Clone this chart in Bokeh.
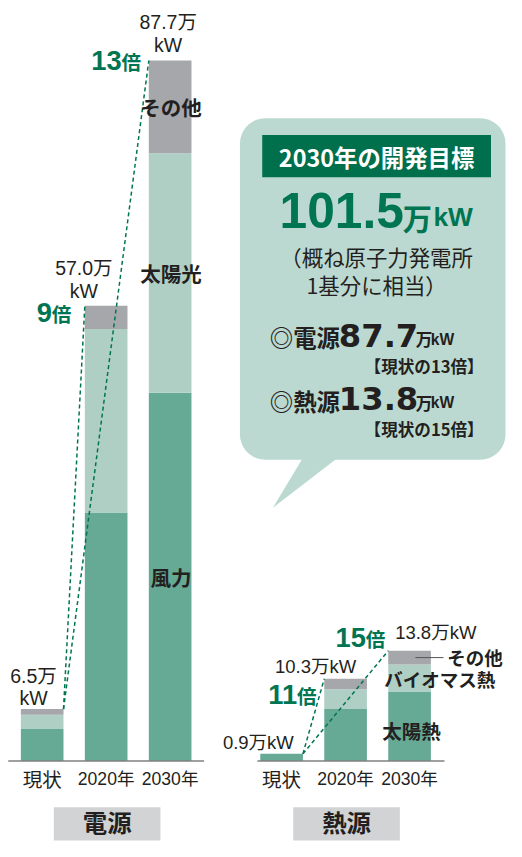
import numpy as np
from bokeh.plotting import figure
from bokeh.models import Range1d, ColumnDataSource
from bokeh.core.properties import value
from bokeh.embed import file_html
from bokeh.resources import INLINE

# ---------------- data ----------------
categories = ["現状", "2020年", "2030年"]

elec_series = ["風力", "太陽光", "その他"]
elec_wind = [4.0, 31.1, 46.1]
elec_solar = [1.8, 23.0, 30.0]
elec_other = [0.7, 2.9, 11.6]
elec_total = [6.5, 57.0, 87.7]
elec_total_text = ["6.5万", "57.0万", "87.7万"]
elec_ratio = ["", "9", "13"]

heat_series = ["太陽熱", "バイオマス熱", "その他"]
heat_solar = [0.9, 6.5, 8.7]
heat_bio = [0.0, 2.5, 3.4]
heat_other = [0.0, 1.3, 1.7]
heat_total = [0.9, 10.3, 13.8]
heat_total_text = ["0.9万kW", "10.3万kW", "13.8万kW"]
heat_ratio = ["", "11", "15"]

group_titles = ["電源", "熱源"]
goal_title = "2030年の開発目標"
goal_total = "101.5"
goal_note = ["（概ね原子力発電所", "1基分に相当）"]
goal_lines = [("◎電源", "87.7", "【現状の13倍】"), ("◎熱源", "13.8", "【現状の15倍】")]

# ---------------- style / layout ----------------
C_DARK = "#66a995"
C_LIGHT = "#afcfc5"
C_GREY = "#a6a7ab"
C_CALLOUT = "#bcd9d1"
C_HEAD = "#006f4c"
C_GREEN = "#007551"
C_TEXT = "#231f20"
C_BOX = "#d1d3d4"
C_AXIS = "#808080"

F_CJK = "'Noto Sans CJK JP'"
F_SANS = "'Liberation Sans', 'Noto Sans CJK JP'"
F_DV = "'DejaVu Sans', 'Noto Sans CJK JP'"

REF_W, REF_H = 522, 857          # coordinate frame of the artwork
W, H = 506, 841                   # figure size in the page
S = 0.975                         # font scale for the artwork -> figure mapping
BASE_Y = 775
PXU = 8.14
ELEC_X0, HEAT_X0, STEP, BAR_W = 43, 290, 66, 44

p = figure(width=W, height=H, x_range=Range1d(0, REF_W), y_range=Range1d(REF_H, 0),
           output_backend="svg", toolbar_location=None,
           x_axis_location=None, y_axis_location=None, min_border=0,
           outline_line_color=None, background_fill_color="white",
           border_fill_color="white")
p.xgrid.visible = False
p.ygrid.visible = False
p.extra_y_ranges = {"val": Range1d(-(REF_H - BASE_Y) / PXU, BASE_Y / PXU)}


def T(x, y, s, size, font=F_SANS, bold=False, color=C_TEXT, align="center",
      yr="default", dy=0):
    p.text(x=[x], y=[y], text=[s], text_font=value(font),
           text_font_size=f"{size * S:.1f}px",
           text_font_style="bold" if bold else "normal", text_color=color,
           text_align=align, text_baseline="middle", y_range_name=yr, y_offset=dy)


def rounded_rect(l, r, t, b, rad, n=10):
    xs, ys = [], []
    corners = [(r - rad, t + rad, -90, 0), (r - rad, b - rad, 0, 90),
               (l + rad, b - rad, 90, 180), (l + rad, t + rad, 180, 270)]
    for cx, cy, a0, a1 in corners:
        a = np.radians(np.linspace(a0, a1, n))
        xs += list(cx + rad * np.cos(a))
        ys += list(cy + rad * np.sin(a))
    return xs, ys


# ---------------- callout ----------------
xs, ys = rounded_rect(247, 521, 120, 468, 26)
p.patch(xs, ys, fill_color=C_CALLOUT, line_color=None)
p.patch([312, 348, 281], [466, 466, 517], fill_color=C_CALLOUT, line_color=None)
p.quad(left=[270], right=[506], top=[137], bottom=[180], fill_color=C_HEAD, line_color=None)
T(388, 159, goal_title, 24, font=F_CJK, bold=True, color="white")
T(352, 214, goal_total, 51, font=F_SANS, bold=True, color=C_GREEN)
T(430, 221, "万", 30, font=F_CJK, bold=True, color=C_GREEN)
T(467, 221, "kW", 27, font=F_SANS, bold=True, color=C_GREEN)
T(388, 261, goal_note[0], 22, font=F_CJK)
T(388, 289, goal_note[1], 22, font=F_CJK)
for k, (lab, num, sub) in enumerate(goal_lines):
    oy = k * 65
    T(314, 343 + oy, lab, 24, font=F_CJK, bold=True)
    T(390, 341 + oy, num, 33, font=F_DV, bold=True)
    T(437, 345 + oy, "万", 17, font=F_CJK, bold=True)
    T(456, 345 + oy, "kW", 16, font=F_SANS, bold=True)
    T(437, 372 + oy, sub, 17, font=F_CJK, bold=True)

# ---------------- bars ----------------
elec_x = [ELEC_X0 + i * STEP for i in range(len(categories))]
heat_x = [HEAT_X0 + i * STEP for i in range(len(categories))]

esrc = ColumnDataSource(dict(x=elec_x, a=elec_wind, b=elec_solar, c=elec_other))
p.vbar_stack(["a", "b", "c"], x="x", width=BAR_W, fill_color=[C_DARK, C_LIGHT, C_GREY],
             line_color=None, source=esrc, y_range_name="val")
hsrc = ColumnDataSource(dict(x=heat_x, a=heat_solar, b=heat_bio, c=heat_other))
p.vbar_stack(["a", "b", "c"], x="x", width=BAR_W, fill_color=[C_DARK, C_LIGHT, C_GREY],
             line_color=None, source=hsrc, y_range_name="val")

# baselines (axis lines)
p.segment(x0=[8, 265], y0=[0, 0], x1=[210, 458], y1=[0, 0], line_color=C_AXIS,
          line_width=1.6, y_range_name="val")

# dashed growth lines
for xs_, tot in ((elec_x, elec_total), (heat_x, heat_total)):
    p.segment(x0=[xs_[0] + BAR_W / 2] * 2, y0=[tot[0]] * 2,
              x1=[xs_[1] - BAR_W / 2, xs_[2] - BAR_W / 2], y1=[tot[1], tot[2]],
              line_color=C_GREEN, line_width=1.5, line_dash="4 3", y_range_name="val")

# category tick labels
for xs_ in (elec_x, heat_x):
    for x, c in zip(xs_, categories):
        if c[0].isdigit():
            T(x, 793, c, 18, font=F_SANS)
        else:
            T(x, 793, c, 20, font=F_CJK)

# totals (electricity)
e_dx = [-9, -23, -2]
e_dy = [(-33, -11), (-38, -15), (-38, -15)]
for i in range(3):
    T(elec_x[i] + e_dx[i], elec_total[i], elec_total_text[i], 20, yr="val", dy=e_dy[i][0])
    T(elec_x[i] + e_dx[i], elec_total[i], "kW", 20, yr="val", dy=e_dy[i][1])

# totals (heat)
h_dx = [-24, -31, 27]
h_dy = [-11, -12, -18]
for i in range(3):
    T(heat_x[i] + h_dx[i], heat_total[i], heat_total_text[i], 19, yr="val", dy=h_dy[i])

# ratio labels
r_right = {("e", 1): -14, ("e", 2): -8, ("h", 1): -8, ("h", 2): -3}
r_dy = {("e", 1): 7, ("e", 2): 0, ("h", 1): 16, ("h", 2): -13}
for key, xs_, tot, rat in (("e", elec_x, elec_total, elec_ratio),
                           ("h", heat_x, heat_total, heat_ratio)):
    for i in (1, 2):
        xr = xs_[i] - BAR_W / 2 + r_right[(key, i)]
        T(xr, tot[i], "倍", 20, font=F_CJK, bold=True, color=C_GREEN, align="right",
          yr="val", dy=r_dy[(key, i)] + 1)
        T(xr - 20, tot[i], rat[i], 28, font=F_SANS, bold=True, color=C_GREEN, align="right",
          yr="val", dy=r_dy[(key, i)])

# series labels inside the 2030 electricity bar
e_last = [elec_wind[2], elec_solar[2], elec_other[2]]
e_mid = np.cumsum(e_last) - np.array(e_last) / 2
for s, m in zip(elec_series, e_mid):
    T(elec_x[2] + 1, m, s, 21, font=F_CJK, bold=True, yr="val")

# series labels for the 2030 heat bar
h_last = [heat_solar[2], heat_bio[2], heat_other[2]]
h_mid = np.cumsum(h_last) - np.array(h_last) / 2
T(heat_x[2] + 2, h_mid[0], heat_series[0], 20, font=F_CJK, bold=True, yr="val", dy=4)
T(heat_x[2] - BAR_W / 2 - 4, h_mid[1], heat_series[1], 19, font=F_CJK, bold=True,
  align="left", yr="val", dy=1)
T(heat_x[2] + BAR_W / 2 + 17, h_mid[2], heat_series[2], 19, font=F_CJK, bold=True,
  align="left", yr="val", dy=-1)
p.segment(x0=[heat_x[2] + 6], y0=[h_mid[2]], x1=[heat_x[2] + BAR_W / 2 + 13], y1=[h_mid[2]],
          line_color="#555555", line_width=1, y_range_name="val")

# group title boxes
centers = [elec_x[1] + 1, heat_x[1] + 1]
p.quad(left=[c - 55 for c in centers], right=[c + 55 for c in centers], top=[822] * 2,
       bottom=[856] * 2, fill_color=C_BOX, line_color=None)
for c, g in zip(centers, group_titles):
    T(c, 837, g, 25, font=F_CJK, bold=True)

open("out.html", "w").write(file_html(p, INLINE))
